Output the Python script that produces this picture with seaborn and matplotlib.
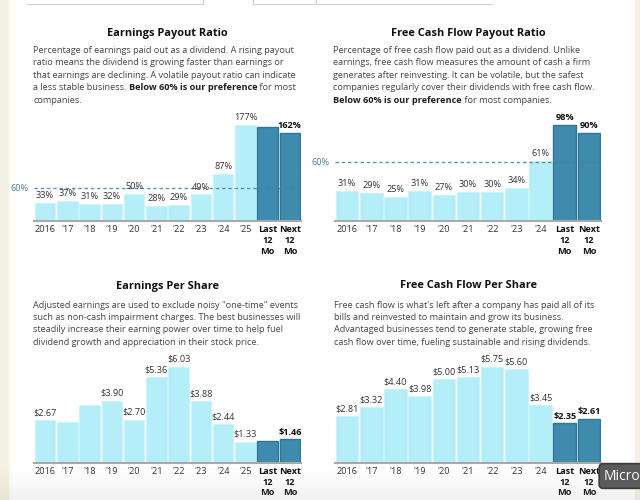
import matplotlib
matplotlib.use("Agg")
import matplotlib.pyplot as plt
import matplotlib.transforms as mtransforms
from matplotlib.patches import Rectangle
from matplotlib.lines import Line2D
import numpy as np
import seaborn as sns

# ---- data ----
years_a = ["2016", "'17", "'18", "'19", "'20", "'21", "'22", "'23", "'24", "'25", "Last\n12\nMo", "Next\n12\nMo"]
years_b = ["2016", "'17", "'18", "'19", "'20", "'21", "'22", "'23", "'24", "Last\n12\nMo", "Next\n12\nMo"]

eps_payout = [33, 37, 31, 32, 50, 28, 29, 49, 87, 177, 173, 162]
eps_payout_labels = ["33%", "37%", "31%", "32%", "50%", "28%", "29%", "49%", "87%", "177%", None, "162%"]

fcf_payout = [31, 29, 25, 31, 27, 30, 30, 34, 61, 98, 90]
fcf_payout_labels = ["31%", "29%", "25%", "31%", "27%", "30%", "30%", "34%", "61%", "98%", "90%"]

eps = [2.67, 2.56, 3.62, 3.90, 2.70, 5.36, 6.03, 3.88, 2.44, 1.33, 1.35, 1.46]
eps_labels = ["$2.67", None, None, "$3.90", "$2.70", "$5.36", "$6.03", "$3.88", "$2.44", "$1.33", None, "$1.46"]

fcf = [2.81, 3.32, 4.40, 3.98, 5.00, 5.13, 5.75, 5.60, 3.45, 2.35, 2.61]
fcf_labels = ["$2.81", "$3.32", "$4.40", "$3.98", "$5.00", "$5.13", "$5.75", "$5.60", "$3.45", "$2.35", "$2.61"]

titles = ["Earnings Payout Ratio", "Free Cash Flow Payout Ratio",
          "Earnings Per Share", "Free Cash Flow Per Share"]

desc_eps_payout = [
    [("Percentage of earnings paid out as a dividend. A rising payout", "normal")],
    [("ratio means the dividend is growing faster than earnings or", "normal")],
    [("that earnings are declining. A volatile payout ratio can indicate", "normal")],
    [("a less stable business. ", "normal"), ("Below 60% is our preference", "bold"), (" for most", "normal")],
    [("companies.", "normal")],
]
desc_fcf_payout = [
    [("Percentage of free cash flow paid out as a dividend. Unlike", "normal")],
    [("earnings, free cash flow measures the amount of cash a firm", "normal")],
    [("generates after reinvesting. It can be volatile, but the safest", "normal")],
    [("companies regularly cover their dividends with free cash flow.", "normal")],
    [("Below 60% is our preference", "bold"), (" for most companies.", "normal")],
]
desc_eps = [
    [("Adjusted earnings are used to exclude noisy \"one-time\" events", "normal")],
    [("such as non-cash impairment charges. The best businesses will", "normal")],
    [("steadily increase their earning power over time to help fuel", "normal")],
    [("dividend growth and appreciation in their stock price.", "normal")],
]
desc_fcf = [
    [("Free cash flow is what's left after a company has paid all of its", "normal")],
    [("bills and reinvested to maintain and grow its business.", "normal")],
    [("Advantaged businesses tend to generate stable, growing free", "normal")],
    [("cash flow over time, fueling sustainable and rising dividends.", "normal")],
]

LIGHT = "#b4eef8"
DARK = "#3e8bad"
DARK_EDGE = "#2d7797"
REF = "#4a7fa5"
TEXT = "#333333"
DESC = "#454545"

sns.set_theme(style="white")
plt.rcParams["font.family"] = ["Open Sans", "DejaVu Sans"]

W, H = 640, 500
fig = plt.figure(figsize=(6.4, 5.0), dpi=100)
fig.patch.set_facecolor("white")


def fx(px):
    return px / W


def fy(py):
    return 1 - py / H


# page background strips and the tab boxes at the top
fig.patches.append(Rectangle((0, 0), fx(8), 1, transform=fig.transFigure, color="#f4f1e3", zorder=0))
fig.patches.append(Rectangle((fx(635), 0), fx(5), 1, transform=fig.transFigure, color="#f4f1e3", zorder=0))
for xs, ys in [([27, 203], [4, 4]), ([203, 203], [0, 4]),
               ([253, 492], [4, 4]), ([253, 253], [0, 4]), ([316, 316], [0, 4])]:
    fig.lines.append(Line2D([fx(x) for x in xs], [fy(y) for y in ys], transform=fig.transFigure,
                            color="#cfcfcf", lw=0.8))

renderer = fig.canvas.get_renderer()


def rich_line(x, y, parts, size=6.55):
    cur = x
    for txt, weight in parts:
        t = fig.text(fx(cur), fy(y), txt, fontsize=size, fontweight=weight,
                     color=DESC if weight == "normal" else "#1e1e1e", va="center", ha="left")
        bb = t.get_window_extent(renderer=renderer)
        cur += bb.width


def draw_panel(rect, cats, vals, labels, title, title_xy, desc, desc_xy, ref=None):
    left, right, top, bottom = rect
    ax = fig.add_axes([fx(left), fy(bottom), fx(right) - fx(left), fy(top) - fy(bottom)])
    n = len(cats)
    colors = [LIGHT] * (n - 2) + [DARK] * 2
    sns.barplot(x=cats, y=vals, hue=cats, palette=colors, legend=False, width=0.93,
                saturation=1, ax=ax, zorder=2)
    for i, p in enumerate(ax.patches):
        if i >= n - 2:
            p.set_edgecolor(DARK_EDGE)
            p.set_linewidth(1.0)
        else:
            p.set_edgecolor("#c8f4fb")
            p.set_linewidth(0.6)
    ax.set_ylim(0, max(vals) * (bottom - top) / 96.0)
    ax.set_xlim(-0.5, n - 0.5)
    ax.set_facecolor("none")
    for s in ["left", "right", "top"]:
        ax.spines[s].set_visible(False)
    ax.spines["bottom"].set_color("#a8a8a8")
    ax.spines["bottom"].set_linewidth(1.5)
    ax.spines["bottom"].set_zorder(3)
    ax.set_yticks([])
    ax.set_xlabel("")
    ax.set_ylabel("")
    ax.tick_params(axis="x", length=3, width=0.8, color="#a8a8a8", direction="inout",
                   labelsize=6.6, labelcolor=TEXT, pad=1.5)
    for k, tl in enumerate(ax.get_xticklabels()):
        tl.set_linespacing(1.25)
        tl.set_va("top")
        if k >= n - 2:
            tl.set_fontweight("bold")
            tl.set_color("#111111")

    for i, (p, lab) in enumerate(zip(ax.patches, labels)):
        if lab is None:
            continue
        bold = i >= n - 2
        ax.annotate(lab, (p.get_x() + p.get_width() / 2, p.get_height()),
                    xytext=(0, 2), textcoords="offset points", ha="center", va="bottom",
                    fontsize=6.6, fontweight="bold" if bold else "normal",
                    color="#111111" if bold else TEXT, zorder=4)

    if ref is not None:
        ax.axhline(ref, color=REF, lw=1.0, ls=(0, (2.5, 2)), alpha=0.85, zorder=3)
        trans = mtransforms.blended_transform_factory(ax.transAxes, ax.transData)
        ax.annotate(f"{ref}%", (0, ref), xycoords=trans, xytext=(-4, 0), textcoords="offset points",
                    ha="right", va="center", fontsize=6.6, color=REF, annotation_clip=False)

    fig.text(fx(title_xy[0]), fy(title_xy[1]), title, fontsize=7.9, fontweight="bold",
             color="#111111", ha="center", va="center")
    x0, y0 = desc_xy
    for k, parts in enumerate(desc):
        rich_line(x0, y0 + k * 12.4, parts)
    return ax


draw_panel((34, 301, 110, 221), years_a, eps_payout, eps_payout_labels, titles[0], (167, 33),
           desc_eps_payout, (33, 50.5), ref=60)
draw_panel((335, 601, 110, 221), years_b, fcf_payout, fcf_payout_labels, titles[1], (468, 33),
           desc_fcf_payout, (333, 50.5), ref=60)
draw_panel((34, 301, 352, 462.7), years_a, eps, eps_labels, titles[2], (167, 286),
           desc_eps, (33, 305))
draw_panel((335, 601, 352, 462.7), years_b, fcf, fcf_labels, titles[3], (468, 286),
           desc_fcf, (334, 305))

# soft shading at the bottom of the screenshot
shade = fig.add_axes([0, 0, 1, fy(468)], zorder=5)
grad = np.zeros((50, 2, 4))
grad[..., :3] = 0.55
grad[..., 3] = np.linspace(0.12, 0.0, 50)[:, None]
shade.imshow(grad, aspect="auto", extent=(0, 1, 0, 1), origin="lower")
shade.axis("off")

# tooltip fragment at the bottom right
fig.text(fx(604), fy(476), "Micro", fontsize=10, color="white", ha="left", va="center", zorder=6,
         bbox=dict(boxstyle="round,pad=0.35,rounding_size=0.3", fc="#5a5a5a", ec="#3a3a3a", lw=1.2))

fig.savefig("out.png", dpi=100)
